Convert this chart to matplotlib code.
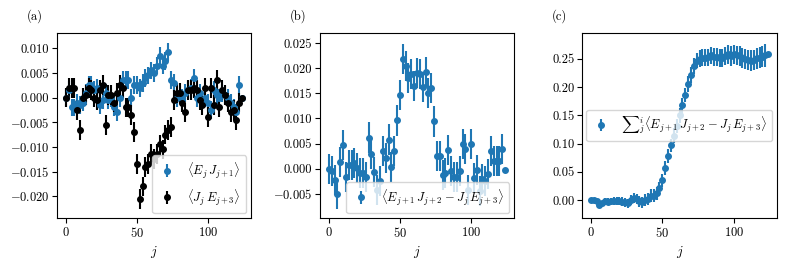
import numpy as np
import matplotlib
matplotlib.use("Agg")
import matplotlib.pyplot as plt
from matplotlib.ticker import FuncFormatter

plt.rcParams.update({
    "font.family": "serif",
    "font.serif": ["cmr10", "DejaVu Serif"],
    "mathtext.fontset": "cm",
    "axes.formatter.use_mathtext": True,
    "font.size": 9,
    "axes.unicode_minus": True,
})

j = list(range(0, 125, 2))

EJ = [0.0, 0.0015, -0.002, -0.002, -0.001, -0.0015, -0.001, 0.001, 0.0025, 0.0025,
      0.0015, 0.002, -0.0015, -0.0005, 0.001, -0.0005, 0.0, -0.002, -0.003, 0.0,
      0.0035, 0.0035, 0.0035, 0.0, 0.0025, 0.0025, 0.002, 0.003, 0.004, 0.0045,
      0.0055, 0.005, 0.0065, 0.0085, 0.0065, 0.0075, 0.0092, 0.0035, 0.003, 0.0,
      0.0005, 0.0, 0.001, 0.0015, 0.002, 0.004, 0.0, 0.001, -0.0005, 0.0,
      -0.001, -0.0025, 0.0015, 0.0005, 0.0, 0.001, 0.0005, 0.0, -0.001, -0.002,
      -0.003, 0.0025, 0.0]
EJ_err = [0.0018] * 62 + [0.0]

JE = [0.0, 0.002, 0.002, 0.002, -0.0025, -0.0065, 0.0, 0.0005, 0.002, 0.0015,
      0.0, -0.0005, 0.0015, 0.0025, -0.0055, 0.0005, 0.0005, -0.001, 0.001, 0.0025,
      0.002, -0.002, -0.002, -0.0035, -0.007, -0.0135, -0.0205, -0.018, -0.014, -0.0135,
      -0.0115, -0.0125, -0.0115, -0.0095, -0.0105, -0.0075, -0.0065, -0.006, -0.0005, 0.001,
      0.001, -0.001, -0.003, 0.0015, 0.0015, 0.002, 0.0015, -0.0005, -0.0015, 0.002,
      -0.004, 0.002, -0.0015, 0.0035, -0.002, 0.0015, 0.0005, -0.001, -0.003, -0.0025,
      -0.0045, -0.001, 0.0]
JE_err = [0.002] * 62 + [0.0]

diff = [0.0, -0.0004, -0.0022, -0.005, 0.0014, 0.0048, -0.0017, 0.0008, 0.0008, 0.0012,
        0.0002, -0.0008, -0.0008, -0.0016, 0.0062, 0.0029, -0.0006, -0.0042, -0.0024, 0.0036,
        0.0022, 0.0058, 0.0004, 0.0036, 0.0096, 0.0146, 0.0218, 0.0205, 0.018, 0.0188,
        0.0165, 0.019, 0.0188, 0.0163, 0.0192, 0.015, 0.016, 0.0094, 0.0025, 0.0026,
        -0.0012, -0.0008, 0.0038, -0.0005, -0.0017, -0.0017, -0.0005, 0.005, 0.004, -0.0042,
        0.005, -0.0018, -0.0003, -0.0045, -0.002, -0.0024, -0.001, 0.0036, 0.0015, 0.0015,
        0.0015, 0.004, -0.0003]
diff_err = [0.003] * 62 + [0.0]

cum = [0.0, 0.0, -0.002, -0.008, -0.006, -0.002, -0.003, -0.002, -0.002, -0.002,
       -0.002, -0.003, -0.004, -0.006, 0.0, 0.003, 0.002, -0.002, -0.004, 0.0,
       0.002, 0.008, 0.008, 0.012, 0.021, 0.035, 0.057, 0.078, 0.097, 0.114,
       0.131, 0.150, 0.168, 0.186, 0.206, 0.222, 0.237, 0.247, 0.250, 0.252,
       0.252, 0.253, 0.256, 0.254, 0.253, 0.251, 0.252, 0.255, 0.258, 0.255,
       0.258, 0.256, 0.255, 0.251, 0.250, 0.248, 0.247, 0.248, 0.251, 0.252,
       0.254, 0.256, 0.258]
cum_err = [0.001, 0.002, 0.003, 0.004, 0.005, 0.005, 0.006, 0.006, 0.007, 0.007,
           0.007, 0.008, 0.008, 0.008, 0.009, 0.009, 0.009, 0.010, 0.010, 0.010,
           0.010, 0.011, 0.011, 0.011, 0.011, 0.012, 0.012, 0.012, 0.012, 0.013,
           0.013, 0.013, 0.013, 0.013, 0.014, 0.014, 0.014, 0.014, 0.015, 0.015,
           0.015, 0.015, 0.015, 0.016, 0.016, 0.016, 0.016, 0.016, 0.017, 0.017,
           0.017, 0.017, 0.017, 0.018, 0.018, 0.018, 0.018, 0.018, 0.019, 0.019,
           0.019, 0.020, 0.0]

blue = "#1f77b4"
W, H = 789, 263
fig = plt.figure(figsize=(W / 100, H / 100), dpi=100)

def add_ax(l, r, t, b):
    return fig.add_axes([l / W, 1 - b / H, (r - l) / W, (b - t) / H])

def fmt(nd):
    def f(v, p):
        s = f"{abs(v):.{nd}f}"
        return (r"$-$" + s) if v < -1e-12 else s
    return FuncFormatter(f)

axa = add_ax(57, 251, 33, 218)
axb = add_ax(320, 514, 33, 218)
axc = add_ax(582, 777, 33, 218)

ekw = dict(fmt="o", ms=4, elinewidth=1.5, capsize=0)
lkw = dict(fontsize=9, handlelength=1.6, handletextpad=0.8, borderaxespad=0.4)

axa.errorbar(j, EJ, yerr=EJ_err, color=blue, label=r"$\langle E_j\, J_{j+1}\rangle$", **ekw)
axa.errorbar(j, JE, yerr=JE_err, color="black", label=r"$\langle J_j\, E_{j+3}\rangle$", **ekw)
axa.set_ylim(-0.0244, 0.0131)
axa.set_yticks([-0.020, -0.015, -0.010, -0.005, 0.0, 0.005, 0.010])
axa.legend(loc="lower right", **lkw)

axb.errorbar(j, diff, yerr=diff_err, color=blue,
             label=r"$\langle E_{j+1}\, J_{j+2} - J_j\, E_{j+3}\rangle$", **ekw)
axb.set_ylim(-0.0098, 0.027)
axb.set_yticks([-0.005, 0.0, 0.005, 0.010, 0.015, 0.020, 0.025])
axb.legend(loc="lower right", **lkw)

axc.errorbar(j, cum, yerr=cum_err, color=blue,
             label=r"${\sum}_j^i \langle E_{j+1}\, J_{j+2} - J_j\, E_{j+3}\rangle$", **ekw)
axc.set_ylim(-0.0317, 0.2958)
axc.set_yticks([0.0, 0.05, 0.10, 0.15, 0.20, 0.25])
axc.legend(loc="center right", **lkw)

axa.yaxis.set_major_formatter(fmt(3))
axb.yaxis.set_major_formatter(fmt(3))
axc.yaxis.set_major_formatter(fmt(2))

for ax, lab in [(axa, "(a)"), (axb, "(b)"), (axc, "(c)")]:
    ax.set_xticks([0, 50, 100])
    ax.tick_params(direction="out", length=3.5, pad=2, labelsize=9)
    ax.set_xlabel(r"$j$", fontsize=10, labelpad=3)
    ax.text(-0.155, 1.07, lab, transform=ax.transAxes, fontsize=9)

fig.savefig("out.png", dpi=100)
